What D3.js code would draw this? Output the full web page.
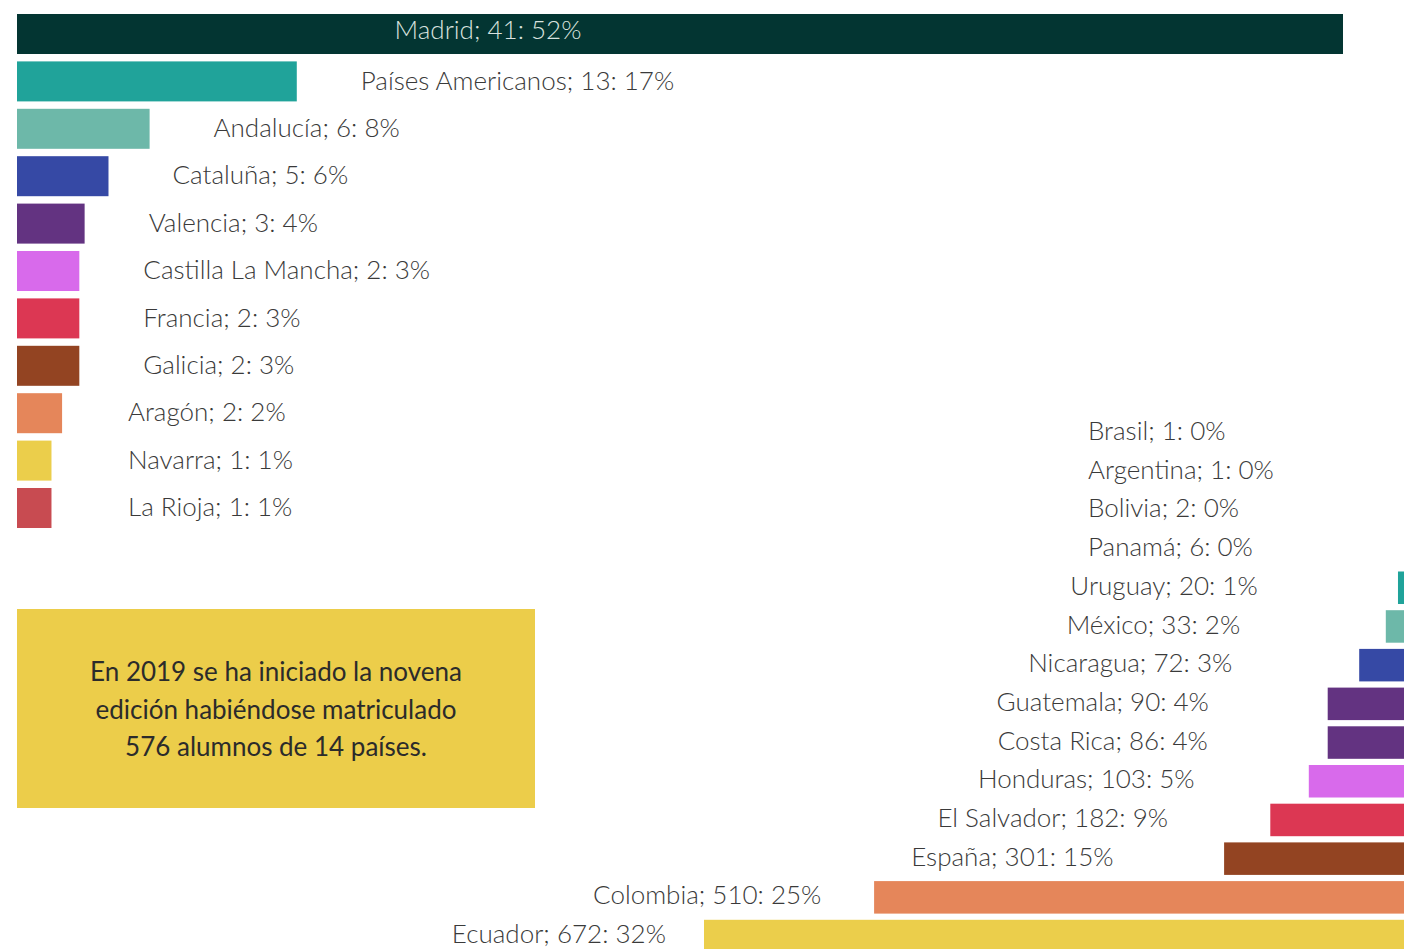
<!DOCTYPE html>
<html>
<head>
<meta charset="utf-8">
<script src="https://cdn.jsdelivr.net/npm/d3@7"></script>
<style>
  html, body { margin: 0; padding: 0; background: #ffffff; }
  svg { display: block; }
  text { font-family: Lato, "Open Sans", sans-serif; }
</style>
</head>
<body>
<svg id="chart" width="1404" height="949"></svg>
<script>
// ---- Data: origin of students (Spanish regions + Américas group) ----
const regionNames = ["Madrid", "Países Americanos", "Andalucía", "Cataluña", "Valencia",
  "Castilla La Mancha", "Francia", "Galicia", "Aragón", "Navarra", "La Rioja"];
const regionCounts = [41, 13, 6, 5, 3, 2, 2, 2, 2, 1, 1];
const regionPercents = [52, 17, 8, 6, 4, 3, 3, 3, 2, 1, 1];
// bar length as drawn in the picture (relative size, Madrid = 100)
const regionBarSize = [100, 21.1, 10.0, 6.9, 5.1, 4.7, 4.7, 4.7, 3.4, 2.6, 2.6];
const regionColors = ["#033532", "#20a39a", "#6db8a9", "#3649a5", "#633381",
  "#d86aeb", "#dc3753", "#934422", "#e5865a", "#ebce4b", "#c84b51"];

// ---- Data: students by country ----
const countryNames = ["Brasil", "Argentina", "Bolivia", "Panamá", "Uruguay", "México",
  "Nicaragua", "Guatemala", "Costa Rica", "Honduras", "El Salvador", "España", "Colombia", "Ecuador"];
const countryCounts = [1, 1, 2, 6, 20, 33, 72, 90, 86, 103, 182, 301, 510, 672];
const countryPercents = [0, 0, 0, 0, 1, 2, 3, 4, 4, 5, 9, 15, 25, 32];
// bar length as drawn in the picture (relative size, Ecuador = 100)
const countryBarSize = [0, 0, 0, 0, 0.86, 2.6, 6.4, 10.9, 10.9, 13.6, 19.1, 25.7, 75.7, 100];
const countryColors = ["#20a39a", "#20a39a", "#20a39a", "#20a39a", "#20a39a", "#6db8a9",
  "#3649a5", "#633381", "#633381", "#d86aeb", "#dc3753", "#934422", "#e5865a", "#ebce4b"];

const noteLines = ["En 2019 se ha iniciado la novena",
  "edición habiéndose matriculado",
  "576 alumnos de 14 países."];

// ---- Drawing ----
const svg = d3.select("#chart");

// Left panel
const leftRows = regionNames.map((n, i) => ({
  name: n, count: regionCounts[i], pct: regionPercents[i], size: regionBarSize[i], color: regionColors[i]
}));
const xL = d3.scaleLinear().domain([0, 100]).range([17, 1343]);
const yL = d3.scaleBand().domain(regionNames).range([10.3, 531.7]).paddingInner(0.156).paddingOuter(0.078);

const gL = svg.append("g");
gL.selectAll("rect").data(leftRows).join("rect")
  .attr("x", xL(0))
  .attr("y", d => yL(d.name))
  .attr("width", d => xL(d.size) - xL(0))
  .attr("height", yL.bandwidth())
  .attr("fill", d => d.color);

gL.selectAll("text").data(leftRows).join("text")
  .attr("x", (d, i) => i === 0 ? 488 : Math.max(xL(d.size) + 64, 128))
  .attr("y", (d, i) => yL(d.name) + yL.bandwidth() / 2 - (i === 0 ? 4 : 1))
  .attr("dy", "0.35em")
  .attr("text-anchor", (d, i) => i === 0 ? "middle" : "start")
  .attr("font-size", 26)
  .attr("font-weight", 300)
  .attr("fill", (d, i) => i === 0 ? "#d9e2df" : "#3a3a3a")
  .text(d => `${d.name}; ${d.count}: ${d.pct}%`);

// Right panel
const rightRows = countryNames.map((n, i) => ({
  name: n, count: countryCounts[i], pct: countryPercents[i], size: countryBarSize[i], color: countryColors[i]
}));
const xR = d3.scaleLinear().domain([0, 100]).range([1404, 704]);
const yR = d3.scaleBand().domain(countryNames).range([413.6, 955.4]).paddingInner(0.16).paddingOuter(0.08);

const gR = svg.append("g");
gR.selectAll("rect").data(rightRows.filter(d => d.size > 0)).join("rect")
  .attr("x", d => xR(d.size))
  .attr("y", d => yR(d.name))
  .attr("width", d => xR(0) - xR(d.size))
  .attr("height", yR.bandwidth())
  .attr("fill", d => d.color);

gR.selectAll("text").data(rightRows).join("text")
  .attr("x", d => d.size > 0 ? 0.872 * xR(d.size) - 55 : 1088)
  .attr("y", d => yR(d.name) + yR.bandwidth() / 2 - 2)
  .attr("dy", "0.35em")
  .attr("text-anchor", d => d.size > 0 ? "middle" : "start")
  .attr("font-size", 26)
  .attr("font-weight", 300)
  .attr("fill", "#3a3a3a")
  .text(d => `${d.name}; ${d.count}: ${d.pct}%`);

// Note box
const note = svg.append("g");
note.append("rect")
  .attr("x", 17).attr("y", 609).attr("width", 518).attr("height", 199)
  .attr("fill", "#eccd4a");
note.selectAll("text").data(noteLines).join("text")
  .attr("x", 276)
  .attr("y", (d, i) => 672 + i * 37.5)
  .attr("dy", "0.35em")
  .attr("text-anchor", "middle")
  .attr("font-size", 26)
  .attr("font-weight", 400)
  .attr("fill", "#2b2b2b")
  .text(d => d);
</script>
</body>
</html>
